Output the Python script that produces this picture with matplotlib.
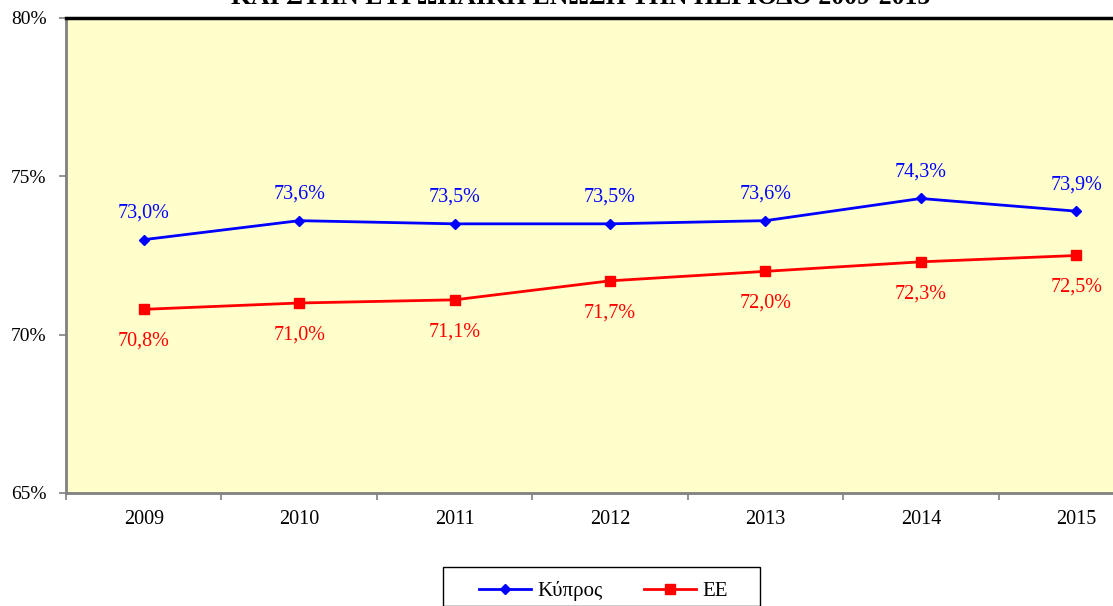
import matplotlib.pyplot as plt
import numpy as np
from matplotlib.patches import Rectangle

years = ["2009", "2010", "2011", "2012", "2013", "2014", "2015"]
cyprus = [73.0, 73.6, 73.5, 73.5, 73.6, 74.3, 73.9]
eu = [70.8, 71.0, 71.1, 71.7, 72.0, 72.3, 72.5]
y_ticks = [65, 70, 75, 80]
title = "ΚΑΙ ΣΤΗΝ ΕΥΡΩΠΑΪΚΗ ΕΝΩΣΗ ΤΗΝ ΠΕΡΙΟΔΟ 2009-2015"

plt.rcParams["font.family"] = ["Liberation Serif", "DejaVu Serif"]

W, H = 1113, 606
fig = plt.figure(figsize=(W / 100, H / 100), dpi=100)
left, right, top, bottom = 66, 1154, 18, 493
ax = fig.add_axes([left / W, 1 - bottom / H, (right - left) / W, (bottom - top) / H])
ax.set_facecolor("#FFFFCC")

x = np.arange(len(years))
ax.plot(x, cyprus, color="#0000FF", lw=2, marker="D", ms=5, label="Κύπρος")
ax.plot(x, eu, color="#FF0000", lw=2, marker="s", ms=6.5, label="ΕΕ")

for xi, v in zip(x, cyprus):
    ax.annotate(f"{v:.1f}%".replace(".", ","), (xi, v), xytext=(0, 19),
                textcoords="offset points", ha="center", va="center",
                color="#0000FF", fontsize=14.5)
for xi, v in zip(x, eu):
    ax.annotate(f"{v:.1f}%".replace(".", ","), (xi, v), xytext=(0, -23),
                textcoords="offset points", ha="center", va="center",
                color="#FF0000", fontsize=14.5)

ax.set_xlim(-0.5, len(years) - 0.5)
ax.set_ylim(65, 80)
ax.set_yticks(y_ticks)
ax.set_yticklabels([f"{t}%" for t in y_ticks], fontsize=14)
ax.set_xticks(x)
ax.set_xticklabels(years, fontsize=14.5)
ax.tick_params(axis="x", length=0, pad=12)
ax.set_xticks(np.arange(-0.5, len(years)), minor=True)
ax.tick_params(axis="x", which="minor", length=5, color="#808080", width=1.2)
ax.tick_params(axis="y", length=5, color="#808080", width=1.2, pad=9)

for side in ["left", "bottom"]:
    ax.spines[side].set_color("#808080")
    ax.spines[side].set_linewidth(2)
ax.spines["top"].set_color("black")
ax.spines["top"].set_linewidth(2.5)
ax.spines["right"].set_visible(False)

fig.text(581 / W, 1 - 4 / H, title, ha="center", va="baseline",
         fontsize=18.5, fontweight="bold")

# legend box drawn separately so its padding matches the original
fig.patches.append(Rectangle((443 / W, 0), (760 - 443) / W, 1 - 567 / H,
                             transform=fig.transFigure, facecolor="white",
                             edgecolor="black", lw=1))
fig.legend(loc="center left", bbox_to_anchor=(479 / W, 1 - 591 / H),
           ncol=2, fontsize=15, frameon=False, handlelength=2.5,
           handletextpad=0.3, columnspacing=2.0, borderpad=0, borderaxespad=0)

fig.savefig("out.png", dpi=100)
